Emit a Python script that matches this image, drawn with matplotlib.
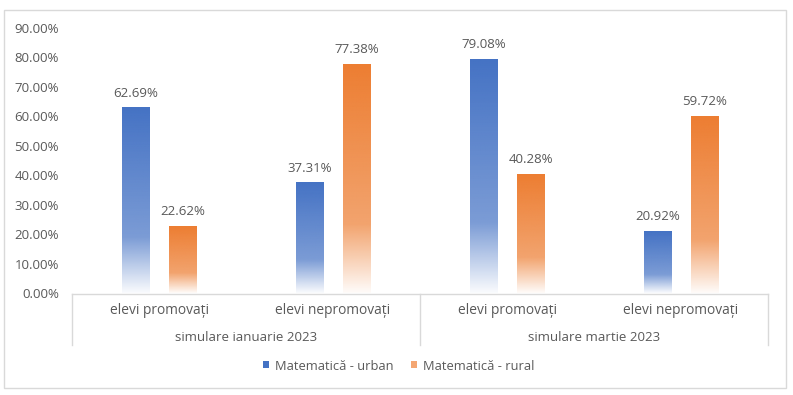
import numpy as np
import matplotlib
matplotlib.use("Agg")
import matplotlib.pyplot as plt
from matplotlib.patches import Patch, Rectangle
from matplotlib.colors import to_rgb

plt.rcParams['font.family'] = ['Open Sans', 'DejaVu Sans']

# ---- data ----
categories = ["elevi promovați", "elevi nepromovați", "elevi promovați", "elevi nepromovați"]
groups = ["simulare ianuarie 2023", "simulare martie 2023"]
series_names = ["Matematică - urban", "Matematică - rural"]
urban = [62.69, 37.31, 79.08, 20.92]
rural = [22.62, 77.38, 40.28, 59.72]
yticks = [0, 10, 20, 30, 40, 50, 60, 70, 80, 90]

colors = ["#4472C4", "#ED7D31"]
text_color = "#595959"
line_color = "#D9D9D9"

W, H = 793, 395
fig = plt.figure(figsize=(W / 100, H / 100), dpi=100)
ax_left, ax_right = 72, 768
ax_bottom_px, ax_top_px = 293.5, 27.8
ax = fig.add_axes([ax_left / W, 1 - ax_bottom_px / H,
                   (ax_right - ax_left) / W, (ax_bottom_px - ax_top_px) / H])

# outer chart border
fig.add_artist(Rectangle((4 / W, (H - 388) / H), (786 - 4) / W, (388 - 9.5) / H,
                         transform=fig.transFigure, fill=False,
                         edgecolor=line_color, linewidth=1))

x = np.arange(len(categories))
bw = 0.16
off = 0.135

def alpha_profile(n=256):
    t = np.linspace(0, 1, n)  # 0 = top, 1 = bottom
    a = np.where(t < 0.7, 1 - 0.42 * t, 0.706 - (0.706 - 0.03) * (t - 0.7) / 0.3)
    return a

def grad_bar(xc, h, color):
    rgb = np.array(to_rgb(color))
    a = alpha_profile()
    img = np.ones((len(a), 1, 4))
    img[:, 0, :3] = rgb
    img[:, 0, 3] = a
    ax.imshow(img, extent=(xc - bw / 2, xc + bw / 2, 0, h), aspect='auto',
              origin='upper', interpolation='bilinear', zorder=2)

for i in range(len(categories)):
    for vals, col, sgn in ((urban, colors[0], -1), (rural, colors[1], 1)):
        xc = x[i] + sgn * off
        grad_bar(xc, vals[i], col)
        ax.annotate(f"{vals[i]:.2f}%", (xc, vals[i]), xytext=(0, 11),
                    textcoords='offset points', ha='center', va='center',
                    fontsize=9.5, color=text_color)

ax.set_xlim(-0.5, 3.5)
ax.set_ylim(0, 90)
ax.set_yticks(yticks)
ax.set_yticklabels([f"{v:.2f}%" for v in yticks])
ax.tick_params(axis='y', length=0, pad=9.5, labelsize=9.5, labelcolor=text_color)
ax.set_xticks([])
for s in ['top', 'right', 'left']:
    ax.spines[s].set_visible(False)
ax.spines['bottom'].set_color(line_color)
ax.spines['bottom'].set_linewidth(1)

# category labels (two levels)
for i, c in enumerate(categories):
    ax.annotate(c, (x[i], 0), xycoords=('data', 'axes fraction'),
                xytext=(0, -12), textcoords='offset points',
                ha='center', va='center', fontsize=9.9, color=text_color)
for g, name in enumerate(groups):
    ax.annotate(name, (2 * g + 0.5, 0), xycoords=('data', 'axes fraction'),
                xytext=(0, -31.5), textcoords='offset points',
                ha='center', va='center', fontsize=9.5, color=text_color)

axh = ax_bottom_px - ax_top_px
for xs in (-0.5, 1.5, 3.5):
    ax.plot([xs, xs], [0, -51.5 / axh], transform=ax.get_xaxis_transform(),
            color=line_color, linewidth=1, clip_on=False)

handles = [Patch(facecolor=colors[0], edgecolor='none'),
           Patch(facecolor='#F4A672', edgecolor='none')]
fig.legend(handles, series_names, loc='center', bbox_to_anchor=(398.5 / W, 1 - 366 / H),
           ncol=2, frameon=False, fontsize=9.3, labelcolor=text_color,
           handlelength=0.45, handleheight=0.45, handletextpad=0.45, columnspacing=1.4)

fig.savefig("out.png", dpi=100)
